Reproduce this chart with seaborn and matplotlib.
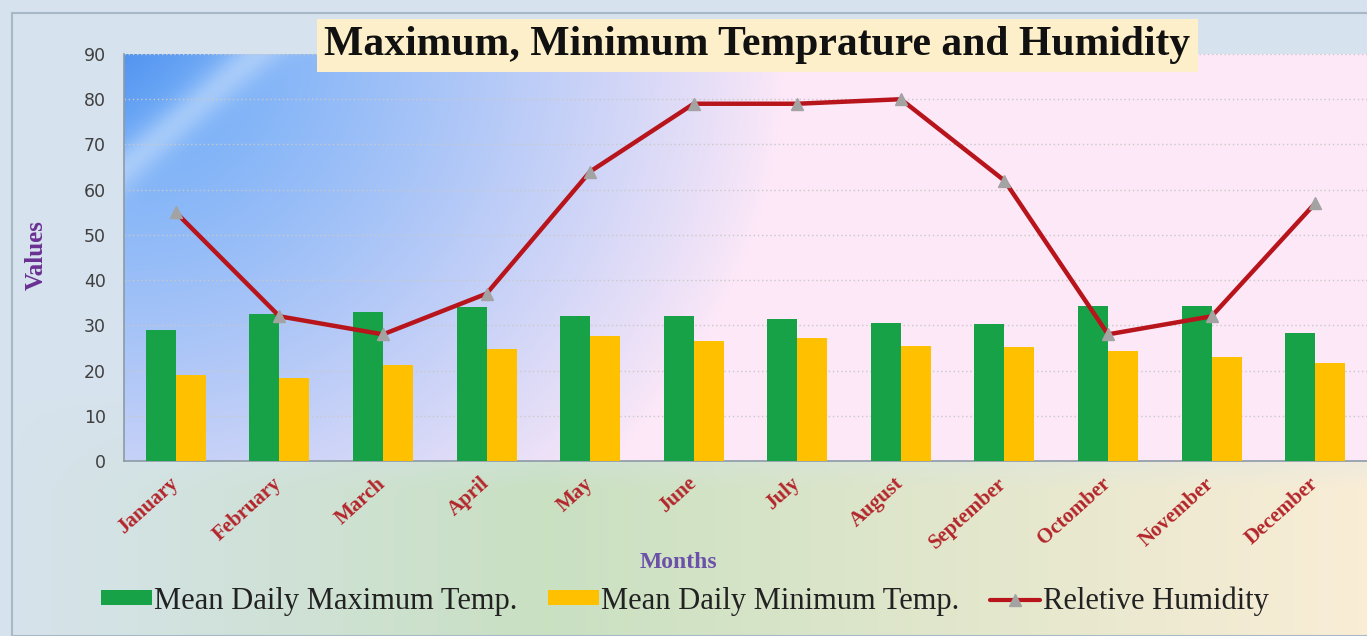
import numpy as np
import pandas as pd
import matplotlib
matplotlib.use('Agg')
import matplotlib.pyplot as plt
import matplotlib.transforms as mtransforms
import seaborn as sns
from matplotlib.patches import Patch, Rectangle
from matplotlib.lines import Line2D

sns.set_style('white')
plt.rcParams['font.family'] = ['DejaVu Sans']

# Chart data
months = ['January', 'February', 'March', 'April', 'May', 'June', 'July',
          'August', 'September', 'Octomber', 'November', 'December']
max_temp = [29.0, 32.5, 33.0, 34.0, 32.0, 32.0, 31.5, 30.5, 30.3, 34.2, 34.2, 28.3]
min_temp = [19.0, 18.3, 21.3, 24.7, 27.7, 26.5, 27.2, 25.4, 25.2, 24.3, 22.9, 21.7]
humidity = [55, 32, 28, 37, 64, 79, 79, 80, 62, 28, 32, 57]
series_names = ['Mean Daily Maximum Temp.', 'Mean Daily Minimum Temp.']
humidity_name = 'Reletive Humidity'
y_ticks = [0, 10, 20, 30, 40, 50, 60, 70, 80, 90]

green = '#17a248'
yellow = '#ffc000'
red = '#b8141c'
marker_grey = '#a3a3a3'

df = pd.DataFrame({
    'Month': months * 2,
    'Series': [series_names[0]] * 12 + [series_names[1]] * 12,
    'Value': max_temp + min_temp,
})

W, H = 1367, 636
fig = plt.figure(figsize=(W / 100, H / 100), dpi=100)

# figure background gradient
bg = fig.add_axes([0, 0, 1, 1], zorder=-10)
yy, xx = np.mgrid[0:H, 0:W] / np.array([H, W])[:, None, None]
top_col = np.array([0.84, 0.89, 0.93])
left_col = np.array([0.84, 0.89, 0.93])
mid_col = np.array([0.79, 0.88, 0.76])
right_col = np.array([0.98, 0.93, 0.84])
h = xx[..., None]
bottom_row = np.where(h < 0.4,
                      left_col + (mid_col - left_col) * (h / 0.4),
                      mid_col + (right_col - mid_col) * ((h - 0.4) / 0.6))
v = np.clip((yy[..., None] - 0.62) / 0.15, 0, 1)
fig_img = top_col + (bottom_row - top_col) * v
bg.imshow(fig_img, aspect='auto', extent=[0, 1, 0, 1], origin='upper')
bg.set_xlim(0, 1)
bg.set_ylim(0, 1)
bg.axis('off')
fig.patches.append(Rectangle((12 / W, 0), 1, 1 - 13 / H, transform=fig.transFigure,
                             fill=False, edgecolor='#a7b8c6', linewidth=1.5, zorder=-5))

pos = [124 / W, 1 - 461 / H, (W - 124) / W, (461 - 54) / H]

# plot area gradient (blue corner fading to pink)
pa = fig.add_axes(pos, zorder=0)
ph, pw = 407, 1243
py, px = np.mgrid[0:ph, 0:pw]
d = np.sqrt((px / 660.0) ** 2 + (py / 600.0) ** 2)
t = np.clip(1 - d, 0, 1) ** 0.9
blue = np.array([0.40, 0.66, 0.97])
pink = np.array([0.99, 0.91, 0.97])
plot_img = pink + (blue - pink) * t[..., None]
s = px + 1.16 * py
corner = np.clip(1 - s / 125.0, 0, 1)
plot_img = plot_img + (np.array([0.30, 0.55, 0.93]) - plot_img) * (0.7 * corner)[..., None]
streak = np.exp(-((s - 132) / 28.0) ** 2)
plot_img = plot_img + (1 - plot_img) * (0.32 * streak)[..., None]
pa.imshow(np.clip(plot_img, 0, 1), aspect='auto', extent=[0, 1, 0, 1], origin='upper')
pa.axis('off')

ax = fig.add_axes(pos, zorder=1)
ax.set_facecolor('none')

sns.barplot(data=df, x='Month', y='Value', hue='Series', palette=[green, yellow],
            width=0.58, saturation=1, legend=False, ax=ax, zorder=3,
            edgecolor='none', linewidth=0)

x_pos = np.arange(len(months))
ax.plot(x_pos, humidity, color=red, linewidth=3.2, zorder=4,
        marker='^', markersize=9, markerfacecolor=marker_grey, markeredgecolor=marker_grey)

ax.set_xlim(-0.5, 11.5)
ax.set_ylim(0, 90)
ax.set_yticks(y_ticks)
ax.yaxis.grid(True, color='#c9c9c9', linestyle=(0, (1, 2)), linewidth=1)
ax.set_axisbelow(True)
for side in ['top', 'right']:
    ax.spines[side].set_visible(False)
for side in ['left', 'bottom']:
    ax.spines[side].set_color('#8c9aa6')
    ax.spines[side].set_linewidth(1.2)

ax.tick_params(axis='y', length=5, color='#8c9aa6', labelsize=12.5, labelcolor='#404040', pad=8)
ax.set_xticks(x_pos)
ax.set_xticklabels(months, rotation=42, ha='right', rotation_mode='anchor',
                   family='Liberation Serif', fontweight='bold', fontsize=15, color='#b3262b')
ax.tick_params(axis='x', length=0, pad=9)
shift = mtransforms.ScaledTranslation(-7 / 100, 0, fig.dpi_scale_trans)
for lab in ax.get_xticklabels():
    lab.set_transform(lab.get_transform() + shift)
ax.set_xticks(np.arange(-0.5, 12, 1), minor=True)
ax.tick_params(axis='x', which='minor', length=6, color='#8c9aa6')

ax.set_xlabel('')
ax.set_ylabel('')
fig.text(678 / W, 1 - 563 / H, 'Months', ha='center', va='center',
         family='Liberation Serif', fontweight='bold', fontsize=17, color='#6b52a8')
fig.text(36 / W, 1 - 255 / H, 'Values', ha='center', va='center', rotation=90,
         family='Liberation Serif', fontweight='bold', fontsize=18, color='#6a2f92')

fig.text(757 / W, 1 - 45 / H, 'Maximum, Minimum Temprature and Humidity', ha='center', va='center',
         family='Liberation Serif', fontweight='bold', fontsize=30, color='#111111',
         bbox=dict(boxstyle='square,pad=0.18', facecolor='#fcefc9', edgecolor='none'), zorder=5)

handles = [Patch(facecolor=green, edgecolor='none'),
           Patch(facecolor=yellow, edgecolor='none'),
           Line2D([0], [0], color=red, linewidth=3, marker='^', markersize=8,
                  markerfacecolor=marker_grey, markeredgecolor=marker_grey)]
fig.legend(handles, series_names + [humidity_name], loc='center', ncol=3,
           bbox_to_anchor=(685 / W, 1 - 601 / H), frameon=False,
           prop={'family': 'Liberation Serif', 'size': 22},
           handlelength=1.65, handleheight=0.36, handletextpad=0.08, columnspacing=1.0,
           labelcolor='#222222')

fig.savefig('out.png', dpi=100)
